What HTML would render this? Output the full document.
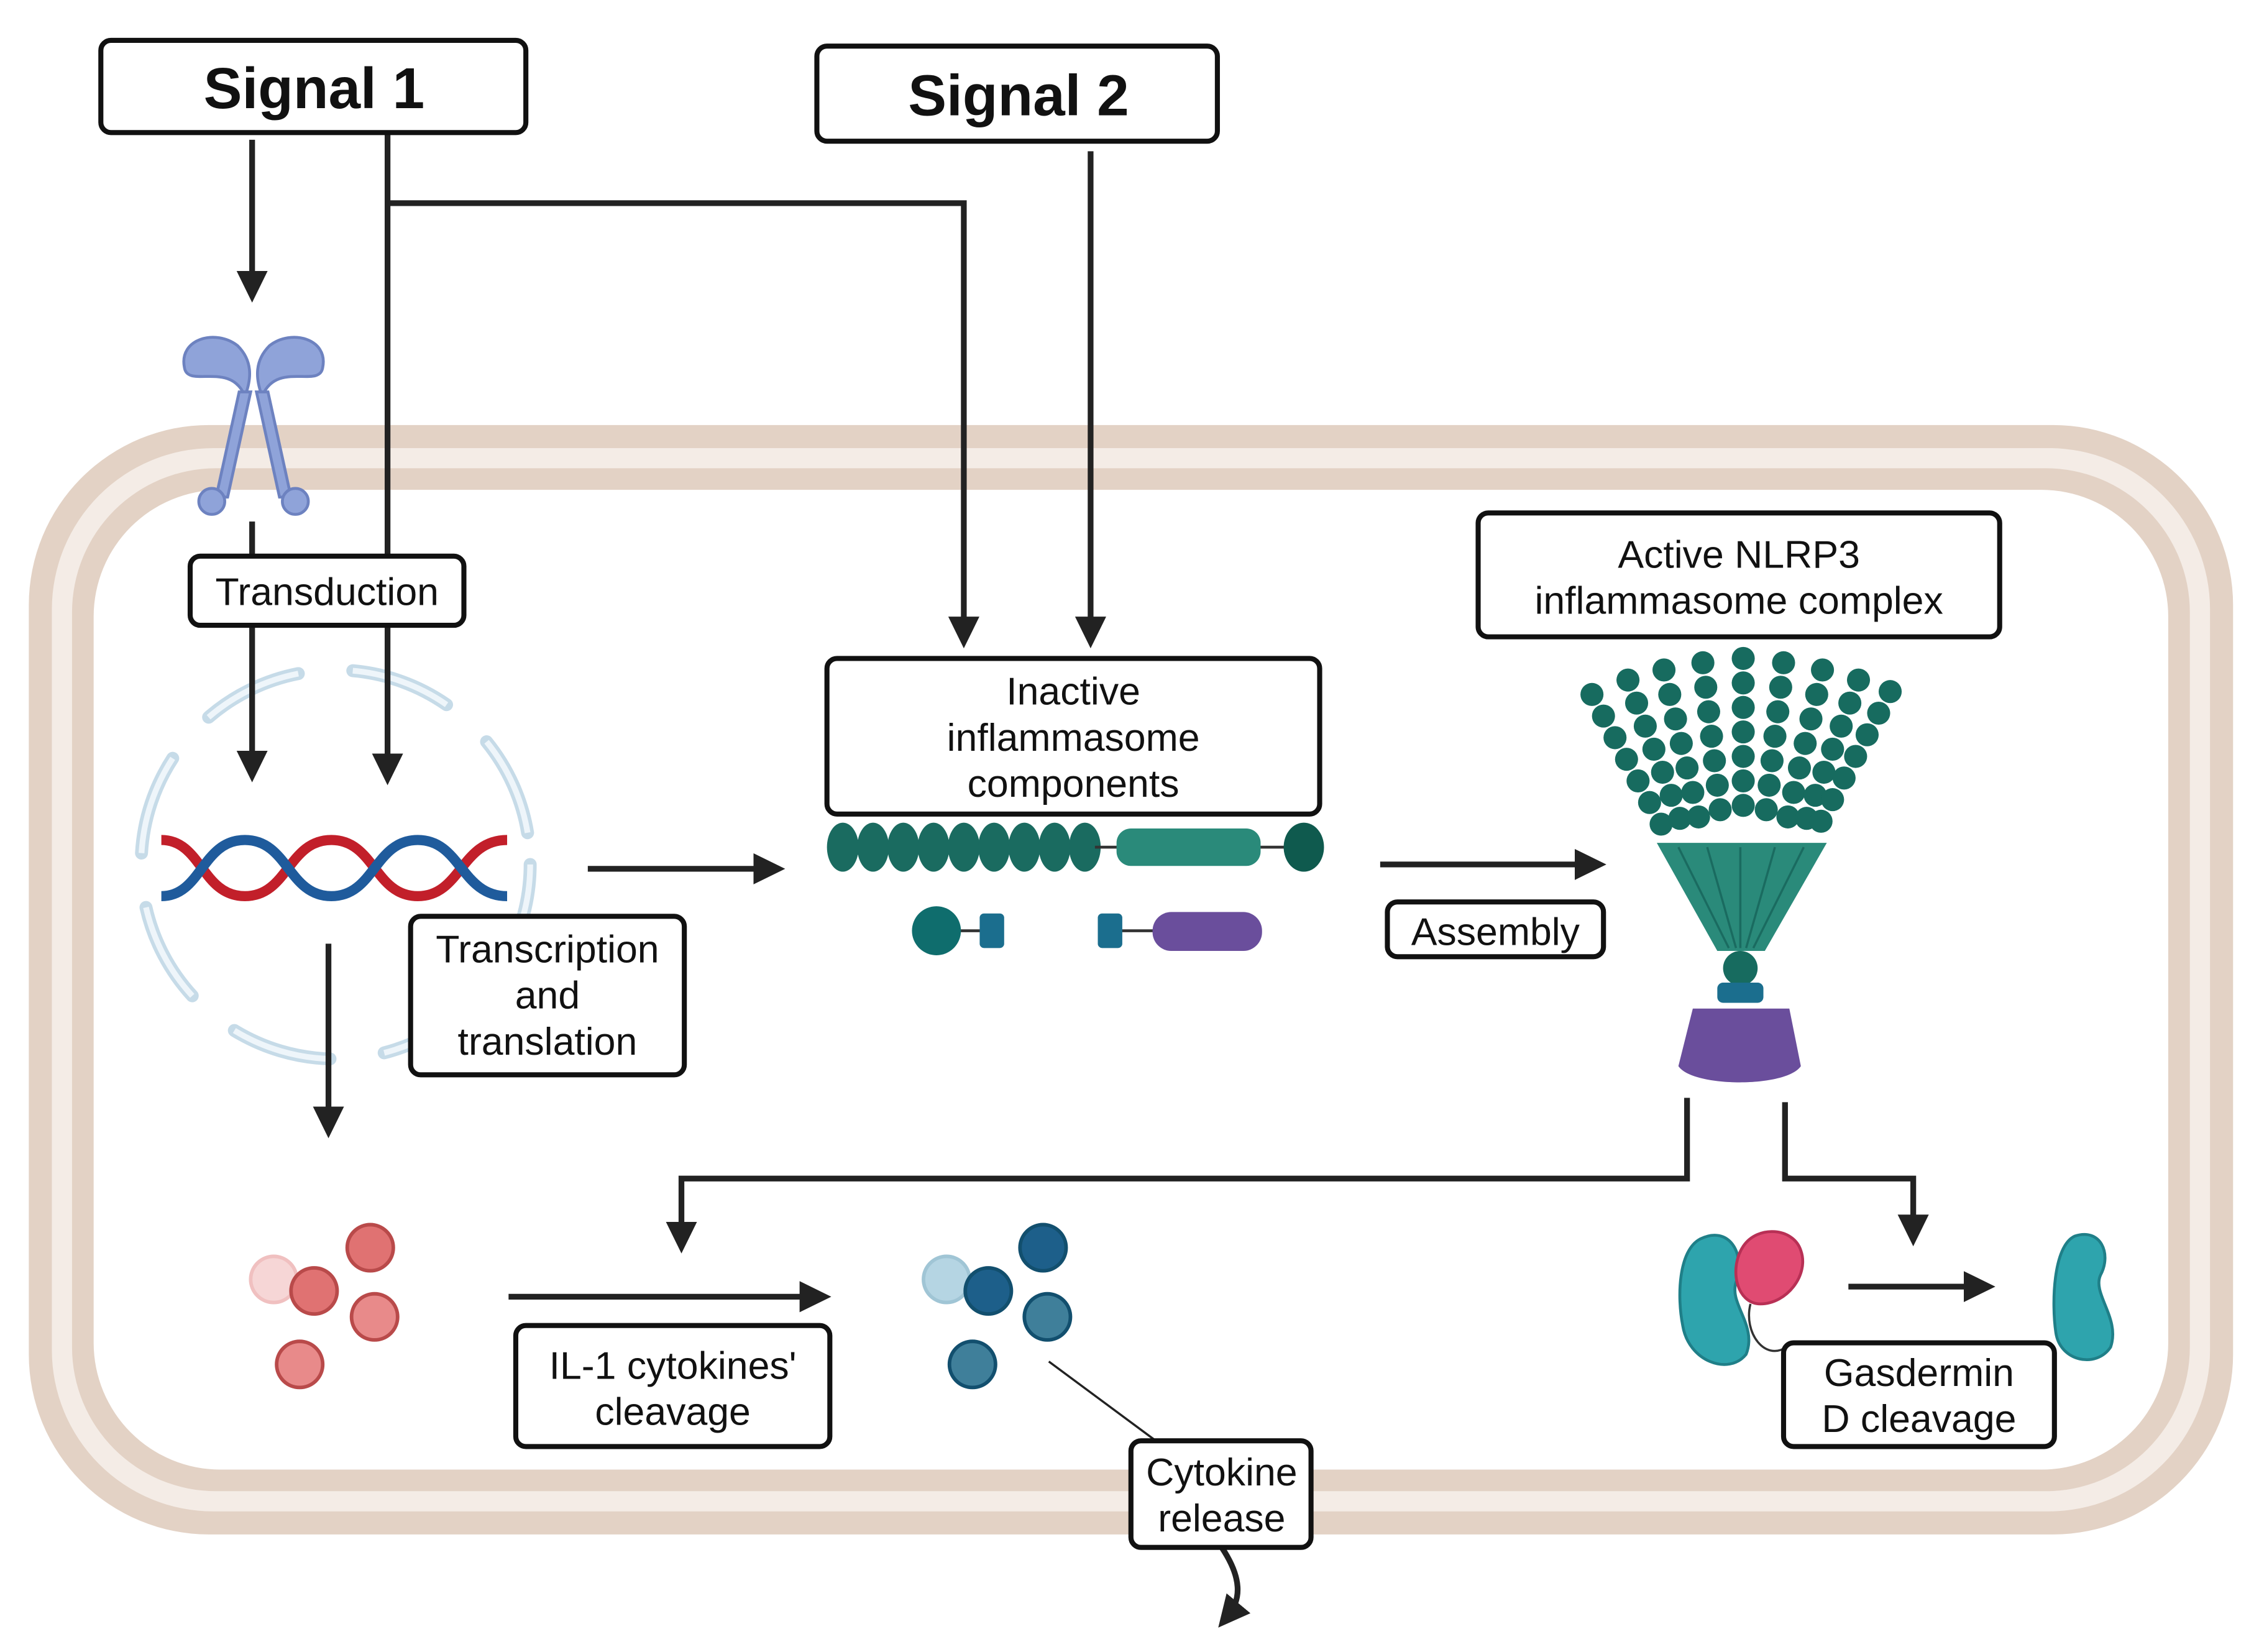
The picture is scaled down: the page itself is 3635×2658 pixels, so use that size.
<!DOCTYPE html>
<html><head><meta charset="utf-8"><style>
html,body{margin:0;padding:0;background:#fff;}
svg{display:block;}
text{font-family:"Liberation Sans",sans-serif;fill:#111;text-anchor:middle;}
</style></head><body>
<svg width="3635" height="2658" viewBox="0 0 1568 1146.6" preserveAspectRatio="none" xmlns="http://www.w3.org/2000/svg">
<defs>
<marker id="ah" markerWidth="6" markerHeight="6" refX="3" refY="3" orient="auto" markerUnits="strokeWidth">
<path d="M0,0.3 L5.5,3 L0,5.7 Z" fill="#222"/></marker>
</defs>
<rect width="1568" height="1147" fill="#fff"/>
<!-- cell -->
<rect x="20" y="295" width="1530" height="770" rx="125" fill="#e3d2c5"/>
<rect x="36" y="311" width="1498" height="738" rx="112" fill="#f4ece6"/>
<rect x="50" y="325" width="1470" height="710" rx="100" fill="#e3d2c5"/>
<rect x="65" y="340" width="1440" height="680" rx="88" fill="#fff"/>

<!-- nucleus dashed -->
<circle cx="233" cy="600" r="135" fill="none" stroke="#c6dbe8" stroke-width="9" stroke-dasharray="70 38" stroke-linecap="round"/>
<circle cx="233" cy="600" r="135" fill="none" stroke="#eef5fa" stroke-width="4" stroke-dasharray="70 38"/>
<!-- DNA -->
<path d="M112,583 C140,583 140,622 170,622 C200,622 200,583 230,583 C260,583 260,622 290,622 C320,622 320,583 352,583" fill="none" stroke="#c21f2a" stroke-width="7"/>
<path d="M112,622 C140,622 140,583 170,583 C200,583 200,622 230,622 C260,622 260,583 290,583 C320,583 320,622 352,622" fill="none" stroke="#1f5b9c" stroke-width="7"/>

<!-- arrows -->
<g stroke="#222" stroke-width="4" fill="none">
<line x1="175" y1="97" x2="175" y2="200" marker-end="url(#ah)"/>
<line x1="269" y1="93" x2="269" y2="535" marker-end="url(#ah)"/>
<polyline points="269,141 669,141 669,440" marker-end="url(#ah)"/>
<line x1="757" y1="105" x2="757" y2="440" marker-end="url(#ah)"/>
<line x1="175" y1="362" x2="175" y2="386"/>
<line x1="175" y1="434" x2="175" y2="533" marker-end="url(#ah)"/>
<line x1="228" y1="655" x2="228" y2="780" marker-end="url(#ah)"/>
<line x1="408" y1="603" x2="535" y2="603" marker-end="url(#ah)"/>
<line x1="958" y1="600" x2="1105" y2="600" marker-end="url(#ah)"/>
<polyline points="1171,762 1171,818 473,818 473,860" marker-end="url(#ah)"/>
<polyline points="1239,765 1239,818 1328,818 1328,855" marker-end="url(#ah)"/>
<line x1="353" y1="900" x2="567" y2="900" marker-end="url(#ah)"/>
<line x1="1283" y1="893" x2="1375" y2="893" marker-end="url(#ah)"/>
<path d="M848,1074 C862,1095 862,1110 852,1122" marker-end="url(#ah)"/>
</g>
<line x1="728" y1="945" x2="805" y2="1002" stroke="#222" stroke-width="1.5"/>

<!-- receptor -->
<g fill="#8fa3d9" stroke="#6d82c0" stroke-width="2">
<path d="M170,275 C160,250 130,270 128,255 C124,235 150,228 165,240 C175,250 175,262 170,275 Z"/>
<path d="M182,275 C192,250 222,270 224,255 C228,235 202,228 187,240 C177,250 177,262 182,275 Z"/>
<path d="M166,272 L150,345 L158,345 L174,272 Z"/>
<path d="M186,272 L202,345 L194,345 L178,272 Z"/>
<circle cx="147" cy="348" r="9"/><circle cx="205" cy="348" r="9"/>
</g>

<!-- inactive components -->
<g fill="#1a6b60">
<ellipse cx="585" cy="588" rx="11" ry="17"/><ellipse cx="606" cy="588" rx="11" ry="17"/><ellipse cx="627" cy="588" rx="11" ry="17"/><ellipse cx="648" cy="588" rx="11" ry="17"/><ellipse cx="669" cy="588" rx="11" ry="17"/><ellipse cx="690" cy="588" rx="11" ry="17"/><ellipse cx="711" cy="588" rx="11" ry="17"/><ellipse cx="732" cy="588" rx="11" ry="17"/><ellipse cx="753" cy="588" rx="11" ry="17"/>
</g>
<line x1="760" y1="588" x2="905" y2="588" stroke="#333" stroke-width="2"/>
<rect x="775" y="575" width="100" height="26" rx="10" fill="#2a8a7a"/>
<ellipse cx="905" cy="588" rx="14" ry="17" fill="#0f5a4e"/>
<line x1="660" y1="646" x2="690" y2="646" stroke="#333" stroke-width="2"/>
<circle cx="650" cy="646" r="17" fill="#0f6d6d"/>
<rect x="680" y="634" width="17" height="24" rx="3" fill="#1b6e8e"/>
<line x1="770" y1="646" x2="805" y2="646" stroke="#333" stroke-width="2"/>
<rect x="762" y="634" width="17" height="24" rx="3" fill="#1b6e8e"/>
<rect x="800" y="633" width="76" height="27" rx="13" fill="#6a4e9c"/>

<!-- inflammasome -->
<g fill="#176b5f">
<path d="M1150,585 L1268,585 L1225,660 L1192,660 Z" fill="#2a8a7a"/>
<g stroke="#1a6b60" stroke-width="1.5"><line x1="1165" y1="588" x2="1200" y2="658"/><line x1="1185" y1="588" x2="1205" y2="658"/><line x1="1208" y1="588" x2="1208" y2="658"/><line x1="1232" y1="588" x2="1212" y2="658"/><line x1="1252" y1="588" x2="1217" y2="658"/></g>
<circle cx="1208" cy="672" r="12"/>
<rect x="1192" y="682" width="32" height="14" rx="4" fill="#1b6e8e"/>
<path d="M1175,700 L1242,700 L1250,740 C1240,755 1175,755 1165,740 Z" fill="#6a4e9c"/>
</g>
<g fill="#176b5f">
<circle cx="1105" cy="482" r="8"/><circle cx="1113" cy="497" r="8"/><circle cx="1121" cy="512" r="8"/><circle cx="1129" cy="527" r="8"/><circle cx="1137" cy="542" r="8"/><circle cx="1145" cy="557" r="8"/><circle cx="1153" cy="572" r="8"/>
<circle cx="1130" cy="472" r="8"/><circle cx="1136" cy="488" r="8"/><circle cx="1142" cy="504" r="8"/><circle cx="1148" cy="520" r="8"/><circle cx="1154" cy="536" r="8"/><circle cx="1160" cy="552" r="8"/><circle cx="1166" cy="568" r="8"/>
<circle cx="1155" cy="465" r="8"/><circle cx="1159" cy="482" r="8"/><circle cx="1163" cy="499" r="8"/><circle cx="1167" cy="516" r="8"/><circle cx="1171" cy="533" r="8"/><circle cx="1175" cy="550" r="8"/><circle cx="1179" cy="567" r="8"/>
<circle cx="1182" cy="460" r="8"/><circle cx="1184" cy="477" r="8"/><circle cx="1186" cy="494" r="8"/><circle cx="1188" cy="511" r="8"/><circle cx="1190" cy="528" r="8"/><circle cx="1192" cy="545" r="8"/><circle cx="1194" cy="562" r="8"/>
<circle cx="1210" cy="457" r="8"/><circle cx="1210" cy="474" r="8"/><circle cx="1210" cy="491" r="8"/><circle cx="1210" cy="508" r="8"/><circle cx="1210" cy="525" r="8"/><circle cx="1210" cy="542" r="8"/><circle cx="1210" cy="559" r="8"/>
<circle cx="1238" cy="460" r="8"/><circle cx="1236" cy="477" r="8"/><circle cx="1234" cy="494" r="8"/><circle cx="1232" cy="511" r="8"/><circle cx="1230" cy="528" r="8"/><circle cx="1228" cy="545" r="8"/><circle cx="1226" cy="562" r="8"/>
<circle cx="1265" cy="465" r="8"/><circle cx="1261" cy="482" r="8"/><circle cx="1257" cy="499" r="8"/><circle cx="1253" cy="516" r="8"/><circle cx="1249" cy="533" r="8"/><circle cx="1245" cy="550" r="8"/><circle cx="1241" cy="567" r="8"/>
<circle cx="1290" cy="472" r="8"/><circle cx="1284" cy="488" r="8"/><circle cx="1278" cy="504" r="8"/><circle cx="1272" cy="520" r="8"/><circle cx="1266" cy="536" r="8"/><circle cx="1260" cy="552" r="8"/><circle cx="1254" cy="568" r="8"/>
<circle cx="1312" cy="480" r="8"/><circle cx="1304" cy="495" r="8"/><circle cx="1296" cy="510" r="8"/><circle cx="1288" cy="525" r="8"/><circle cx="1280" cy="540" r="8"/><circle cx="1272" cy="555" r="8"/><circle cx="1264" cy="570" r="8"/>
</g>

<!-- red cytokines -->
<g stroke="#b94a4a" stroke-width="2.5">
<circle cx="190" cy="888" r="16" fill="#f6d6d6" stroke="#f0c0c0"/>
<circle cx="218" cy="896" r="16" fill="#e07272"/>
<circle cx="257" cy="866" r="16" fill="#e07272"/>
<circle cx="260" cy="914" r="16" fill="#e88a8a"/>
<circle cx="208" cy="947" r="16" fill="#e88a8a"/>
</g>
<!-- blue cytokines -->
<g stroke="#124f6e" stroke-width="2.5">
<circle cx="657" cy="888" r="16" fill="#b5d5e3" stroke="#a0c5d5"/>
<circle cx="686" cy="896" r="16" fill="#1d5f8a"/>
<circle cx="724" cy="866" r="16" fill="#1d5f8a"/>
<circle cx="727" cy="914" r="16" fill="#3f7f9a"/>
<circle cx="675" cy="947" r="16" fill="#3f7f9a"/>
</g>

<!-- gasdermin -->
<path d="M1180,860 C1200,850 1212,870 1205,890 C1200,905 1220,920 1212,940 C1200,955 1172,945 1168,920 C1164,900 1165,868 1180,860 Z" fill="#2ea4ad" stroke="#1f7f88" stroke-width="2"/>
<path d="M1210,865 C1220,850 1245,852 1250,868 C1256,885 1240,905 1222,905 C1205,905 1200,880 1210,865 Z" fill="#e04b72" stroke="#b83055" stroke-width="2"/>
<path d="M1215,905 C1210,925 1225,945 1240,935" fill="none" stroke="#333" stroke-width="1.5"/>
<path d="M1440,858 C1458,852 1466,870 1458,885 C1452,898 1472,915 1465,935 C1455,950 1430,945 1427,925 C1424,905 1425,865 1440,858 Z" fill="#2ea4ad" stroke="#1f7f88" stroke-width="2"/>

<!-- boxes -->
<g fill="#fff" stroke="#111" stroke-width="3.5">
<rect x="70" y="28" width="295" height="64" rx="7"/>
<rect x="567" y="32" width="278" height="66" rx="7"/>
<rect x="132" y="386" width="190" height="48" rx="7"/>
<rect x="574" y="457" width="342" height="108" rx="7"/>
<rect x="1026" y="356" width="362" height="86" rx="7"/>
<rect x="285" y="636" width="190" height="110" rx="7"/>
<rect x="963" y="626" width="150" height="38" rx="7"/>
<rect x="358" y="920" width="218" height="84" rx="7"/>
<rect x="785" y="1000" width="125" height="74" rx="7"/>
<rect x="1238" y="932" width="188" height="72" rx="7"/>
</g>
<g font-size="27">
<text x="218" y="75" font-size="40" font-weight="bold">Signal 1</text>
<text x="707" y="80" font-size="40" font-weight="bold">Signal 2</text>
<text x="227" y="420">Transduction</text>
<text x="745" y="489">Inactive</text>
<text x="745" y="521">inflammasome</text>
<text x="745" y="553">components</text>
<text x="1207" y="394">Active NLRP3</text>
<text x="1207" y="426">inflammasome complex</text>
<text x="380" y="668">Transcription</text>
<text x="380" y="700">and</text>
<text x="380" y="732">translation</text>
<text x="1038" y="656">Assembly</text>
<text x="467" y="957">IL-1 cytokines'</text>
<text x="467" y="989">cleavage</text>
<text x="848" y="1031">Cytokine</text>
<text x="848" y="1063">release</text>
<text x="1332" y="962">Gasdermin</text>
<text x="1332" y="994">D cleavage</text>
</g>
</svg>
</body></html>
